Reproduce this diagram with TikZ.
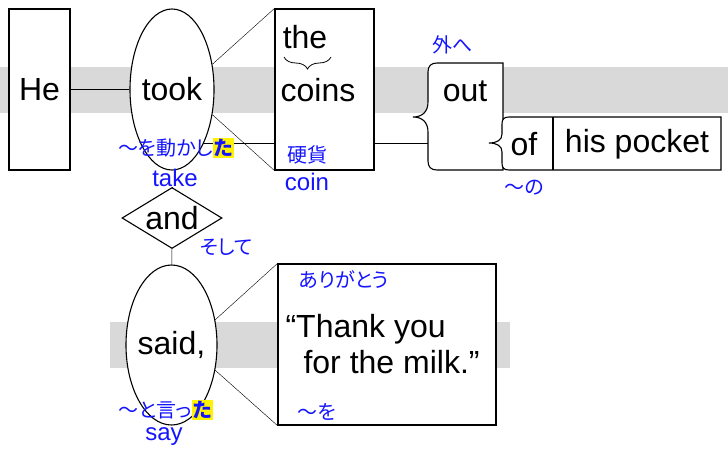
\documentclass[tikz,border=0pt]{standalone}
\usepackage{fontspec}
\setmainfont{Liberation Sans}
\newfontfamily\cjk[RawFeature=+palt]{Noto Sans CJK JP}
\usetikzlibrary{shapes.geometric,decorations.pathreplacing,positioning}
\definecolor{glossblue}{RGB}{20,20,255}
\definecolor{bandgray}{RGB}{217,217,217}
\newcommand{\hl}[1]{{\setlength{\fboxsep}{1pt}\colorbox{yellow}{\bfseries #1}}}
\pgfdeclarelayer{bands}
\pgfdeclarelayer{lines}
\pgfsetlayers{bands,lines,main}

\begin{document}
\begin{tikzpicture}[x=1pt,y=-1pt,line width=1.1pt]
  \tikzstyle{word}=[font=\fontsize{32}{36}\selectfont,inner sep=0pt]
  \tikzstyle{wordbox}=[word,rectangle,draw,fill=white]
  \tikzstyle{verb}=[word,ellipse,draw,fill=white]
  \tikzstyle{conj}=[word,diamond,draw,fill=white]
  \tikzstyle{gloss}=[text=glossblue,font=\cjk\fontsize{20}{24}\selectfont,inner sep=0pt]
  \tikzstyle{en gloss}=[text=glossblue,font=\fontsize{24}{28}\selectfont,inner sep=0pt]
  \useasboundingbox (0,0) rectangle (728,453);
  % main clause
  \node [wordbox,minimum width=61,minimum height=161] (he) at (39.5,89.5) {He};
  \node [verb,minimum width=84,minimum height=161] (took) at (172,89.5) {\makebox[0pt]{took}};
  \node [wordbox,minimum width=99,minimum height=161] (coinbox) at (324.5,89.5) {};
  \node [word] (the) at (305,37) {the};
  \node [word] (coins) at (318,90) {coins};
  \draw [line width=0.8pt,decorate,decoration={brace,amplitude=12pt}] (331,57) -- (284,57);
  \node [gloss] (coinja) at (307,155) {硬貨};
  \node [en gloss] (coinen) [below=8pt of coinja] {coin};
  \node [gloss] (tookja) at (176,148) {〜を動かし\hl{た}};
  \node [en gloss] (tooken) at (175,178) {take};
  % out of his pocket
  \draw [fill=white] (503,63) -- (437,63) .. controls (431,63) and (428,66) .. (428,72)
    -- (428,102) .. controls (428,112) and (422,117) .. (413,117)
    .. controls (422,117) and (428,122) .. (428,132)
    -- (428,161) .. controls (428,167) and (431,170) .. (437,170) -- (503,170) -- cycle;
  \coordinate (outL) at (428,143);
  \node [word] (out) at (465,91) {out};
  \node [gloss] (outja) at (453,45) {外へ};
  \draw [fill=white] (721,117) -- (509,117) .. controls (504,117) and (502,119) .. (502,124)
    -- (502,134) .. controls (502,140) and (497,143) .. (489,143)
    .. controls (497,143) and (502,146) .. (502,152)
    -- (502,163) .. controls (502,168) and (504,170) .. (509,170) -- (721,170) -- cycle;
  \coordinate (ofsep) at (553,117);
  \draw (ofsep) -- (553,170);
  \node [word] (of) at (524,144) {of};
  \node [word] (pocket) at (637,144) {his pocket};
  \node [gloss] (ofja) at (524,188) {〜の};
  % and
  \node [conj,minimum width=100,minimum height=61] (and) at (172,218) {\makebox[0pt]{and}};
  \node [gloss] (andja) at (226,247) {そして};
  % second clause
  \node [verb,minimum width=91,minimum height=160] (said) at (171.5,345) {\makebox[0pt]{said,}};
  \node [gloss] (saidja) at (166,410) {〜と言っ\hl{た}};
  \node [en gloss] (saiden) at (164,437) {say};
  \node [wordbox,minimum width=218,minimum height=161] (quote) at (387,344.5) {};
  \node [word,anchor=west] (thank) at (285,329) {“Thank you};
  \node [word,anchor=west] (milk) at (303,362) {for the milk.”};
  \node [gloss] (quoteja) at (344,280) {ありがとう};
  \node [gloss] (quotewo) at (317,412) {〜を};
  % connectors
  \begin{pgfonlayer}{lines}
    \draw (he) -- (took);
    \draw (took.32) -- (coinbox.north west);
    \draw (took.-32) -- (coinbox.south west);
    \draw (outL -| took.center) -- (outL);
    \draw [shorten <=16pt] (took) -- (and);
    \draw (and) -- (said);
    \draw (said.30) -- (quote.north west);
    \draw (said.-30) -- (quote.south west);
  \end{pgfonlayer}
  \begin{pgfonlayer}{bands}
    \fill [bandgray] (0,67) rectangle (728,113);
    \fill [bandgray] (110,322) rectangle (510,368);
  \end{pgfonlayer}
\end{tikzpicture}
\end{document}
